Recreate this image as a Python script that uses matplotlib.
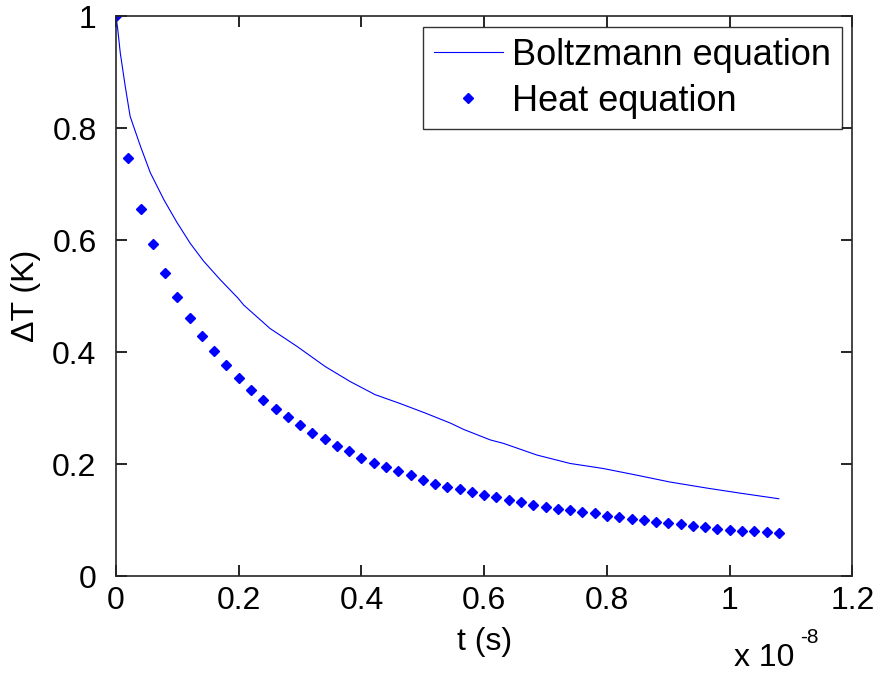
import numpy as np
import matplotlib
matplotlib.use('Agg')
import matplotlib.pyplot as plt

plt.rcParams['font.family'] = ['Liberation Sans', 'DejaVu Sans']

# time in units of 1e-8 s
t_boltz = [0, 0.003, 0.007, 0.015, 0.023, 0.040, 0.056, 0.078, 0.099, 0.121,
           0.143, 0.170, 0.199, 0.208, 0.251, 0.295, 0.341, 0.382, 0.422, 0.463,
           0.504, 0.545, 0.566, 0.610, 0.631, 0.686, 0.740, 0.794, 0.849, 0.902,
           0.963, 1.017, 1.080]
dT_boltz = [1.0, 0.975, 0.934, 0.875, 0.821, 0.767, 0.720, 0.672, 0.632, 0.594,
            0.562, 0.529, 0.496, 0.484, 0.442, 0.410, 0.374, 0.347, 0.324, 0.308,
            0.291, 0.273, 0.262, 0.243, 0.237, 0.216, 0.201, 0.192, 0.180, 0.168,
            0.157, 0.148, 0.138]

t_heat = np.arange(55) * 0.02
dT_heat = [1.0, 0.746, 0.655, 0.593, 0.541, 0.498, 0.461, 0.428, 0.401, 0.376,
           0.353, 0.332, 0.314, 0.298, 0.284, 0.269, 0.256, 0.244, 0.232, 0.223,
           0.211, 0.202, 0.195, 0.187, 0.180, 0.172, 0.165, 0.159, 0.155, 0.150,
           0.145, 0.141, 0.135, 0.132, 0.127, 0.124, 0.120, 0.118, 0.115, 0.112,
           0.108, 0.105, 0.102, 0.100, 0.096, 0.094, 0.093, 0.090, 0.087, 0.084,
           0.083, 0.081, 0.080, 0.078, 0.077]

fig = plt.figure(figsize=(8.82, 6.78), dpi=100)
ax = fig.add_axes([0.1315, 0.1504, 0.835, 0.826])

ax.plot(t_boltz, dT_boltz, color='#0000ff', lw=0.8, label='Boltzmann equation')
ax.plot(t_heat, dT_heat, ls='none', marker='D', ms=5, color='#0000ff',
        mec='#0000ff', label='Heat equation')

ax.set_xlim(0, 1.2)
ax.set_ylim(0, 1)
ax.set_xticks([0, 0.2, 0.4, 0.6, 0.8, 1.0, 1.2])
ax.set_xticklabels(['0', '0.2', '0.4', '0.6', '0.8', '1', '1.2'])
ax.set_yticks([0, 0.2, 0.4, 0.6, 0.8, 1.0])
ax.set_yticklabels(['0', '0.2', '0.4', '0.6', '0.8', '1'])
ax.tick_params(direction='in', length=8, width=1.2, labelsize=23,
               top=True, right=True)
ax.tick_params(axis='y', pad=14)
ax.tick_params(axis='x', pad=7)
for s in ax.spines.values():
    s.set_linewidth(1.2)
    s.set_color('#262626')

ax.set_xlabel('t (s)', fontsize=23, labelpad=8)
ax.set_ylabel('ΔT (K)', fontsize=23, labelpad=8)
fig.text(0.832, 0.008, 'x 10', fontsize=23, ha='left', va='bottom')
fig.text(0.907, 0.045, '-8', fontsize=15, ha='left', va='bottom')

leg = ax.legend(loc='upper right', fontsize=26, frameon=True, fancybox=False,
                handlelength=1.9, borderpad=0.3, labelspacing=0.3,
                handletextpad=0.25, borderaxespad=0.3)
leg.get_frame().set_edgecolor('black')
leg.get_frame().set_linewidth(1.0)

fig.savefig('out.png', dpi=100)
